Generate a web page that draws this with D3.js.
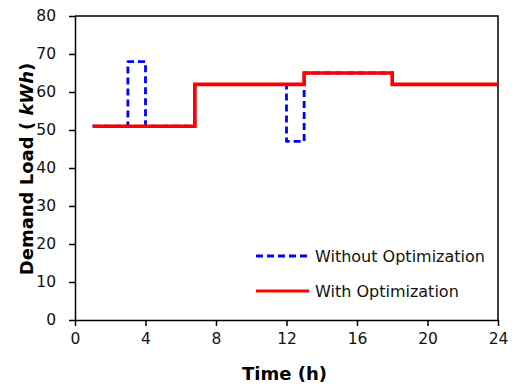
<!DOCTYPE html>
<html>
<head>
<meta charset="utf-8">
<script src="https://cdn.jsdelivr.net/npm/d3@7"></script>
<style>
body { margin: 0; background: #fff; }
svg text { font-family: "DejaVu Sans", Verdana, sans-serif; }
</style>
</head>
<body>
<div id="chart"></div>
<script>
// step points (time in h, load in kWh)
var withoutTime = [1, 3, 3, 4, 4, 6.8, 6.8, 12, 12, 13, 13, 18, 18, 24];
var withoutLoad = [51, 51, 68, 68, 51, 51, 62, 62, 47, 47, 65, 65, 62, 62];
var withTime = [1, 6.8, 6.8, 13, 13, 18, 18, 24];
var withLoad = [51, 51, 62, 62, 65, 65, 62, 62];
var xTicks = [0, 4, 8, 12, 16, 20, 24];
var yTicks = [0, 10, 20, 30, 40, 50, 60, 70, 80];
var seriesNames = ["Without Optimization", "With Optimization"];

var margin = {top: 16, right: 20, bottom: 70, left: 75};
var width = 518 - margin.left - margin.right;
var height = 390 - margin.top - margin.bottom;

var svg = d3.select("#chart")
    .append("svg")
    .attr("width", 518)
    .attr("height", 390)
    .append("g")
    .attr("transform", "translate(" + margin.left + "," + margin.top + ")");

var x = d3.scaleLinear().domain([0, 24]).range([0, width]);
var y = d3.scaleLinear().domain([0, 80]).range([height, 0]);

// frame top / right
svg.append("path")
    .attr("d", "M0,0H" + width + "V" + height)
    .attr("fill", "none")
    .attr("stroke", "#000")
    .attr("stroke-width", 1.5);

var xAxis = svg.append("g")
    .attr("transform", "translate(0," + height + ")")
    .call(d3.axisBottom(x).tickValues(xTicks).tickSize(6).tickPadding(13).tickSizeOuter(0));

var yAxis = svg.append("g")
    .call(d3.axisLeft(y).tickValues(yTicks).tickSize(6).tickPadding(13).tickSizeOuter(0));

[xAxis, yAxis].forEach(function (g) {
    g.select(".domain").attr("stroke-width", 1.5);
    g.selectAll(".tick line").attr("stroke-width", 1.5);
    g.selectAll(".tick text")
        .style("font-size", "15.5px")
        .attr("fill", "#111");
});
xAxis.selectAll(".tick text").attr("dy", "0.3em");

function toPoints(ts, vs) {
    return ts.map(function (t, i) { return [t, vs[i]]; });
}

var line = d3.line()
    .x(function (d) { return x(d[0]); })
    .y(function (d) { return y(d[1]); });

svg.append("path")
    .datum(toPoints(withoutTime, withoutLoad))
    .attr("d", line)
    .attr("fill", "none")
    .attr("stroke", "#0000ff")
    .attr("stroke-width", 2.8)
    .attr("stroke-dasharray", "7,4")
    .attr("stroke-linejoin", "round");

svg.append("path")
    .datum(toPoints(withTime, withLoad))
    .attr("d", line)
    .attr("fill", "none")
    .attr("stroke", "#ff0000")
    .attr("stroke-width", 3.6);

// legend
var legend = svg.append("g").attr("transform", "translate(181,240)");
var legColors = ["#0000ff", "#ff0000"];
var legDash = ["7,4", null];
seriesNames.forEach(function (name, i) {
    var row = legend.append("g").attr("transform", "translate(0," + (i * 35) + ")");
    row.append("line")
        .attr("x1", 0).attr("x2", 53)
        .attr("stroke", legColors[i])
        .attr("stroke-width", 3)
        .attr("stroke-dasharray", legDash[i]);
    row.append("text")
        .attr("x", 59)
        .attr("dy", "0.35em")
        .style("font-size", "16px")
        .attr("fill", "#111")
        .text(name);
});

// axis titles
svg.append("text")
    .attr("x", width / 2 - 2)
    .attr("y", height + 60)
    .attr("text-anchor", "middle")
    .style("font-size", "18px")
    .style("font-weight", "bold")
    .text("Time (h)");

var yt = svg.append("text")
    .attr("transform", "translate(-42," + (y(40) + 1) + ") rotate(-90)")
    .attr("text-anchor", "middle")
    .style("font-size", "18px")
    .style("font-weight", "bold");
yt.append("tspan").text("Demand Load ( ");
yt.append("tspan").style("font-style", "italic").text("kWh");
yt.append("tspan").text(")");
</script>
</body>
</html>
